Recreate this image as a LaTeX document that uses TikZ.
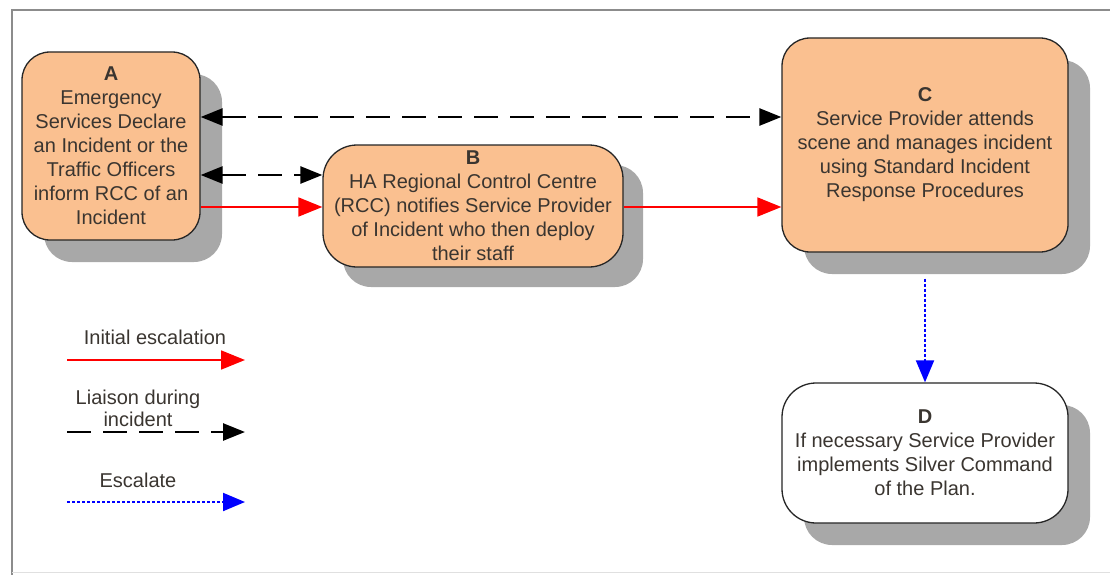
\documentclass[tikz,border=0pt]{standalone}
\usepackage{fontspec}
\setmainfont{Liberation Sans}
\usetikzlibrary{arrows.meta}
\definecolor{peach}{HTML}{FAC090}
\definecolor{txt}{HTML}{3A3530}
\definecolor{shade}{HTML}{A8A8A8}
\definecolor{frame}{HTML}{8C8C8C}
\begin{document}
\begin{tikzpicture}[x=1pt,y=-1pt,
  box/.style={draw=black!85, line width=1.3pt, rounded corners=28pt, align=center,
    text=txt, font=\fontsize{20}{24}\selectfont, inner sep=0pt},
  shad/.style={fill=shade, draw=none, rounded corners=28pt},
  redarr/.style={line width=1.8pt, -{Triangle[length=24pt,width=19pt]}, color=red},
  blkarr/.style={line width=2.6pt, dash pattern=on 24pt off 12pt, {Triangle[length=22pt,width=17pt]}-{Triangle[length=22pt,width=17pt]}},
  blkone/.style={line width=2.6pt, dash pattern=on 24pt off 12pt, -{Triangle[length=22pt,width=17pt]}},
  bluarr/.style={line width=2pt, dash pattern=on 3pt off 2pt, -{Triangle[length=22pt,width=18pt]}, color=blue},
  lgd/.style={text=txt, font=\fontsize{20}{22}\selectfont, align=center, inner sep=0pt}
]
\useasboundingbox (0,0) rectangle (1110,575);
\fill[white] (0,0) rectangle (1110,575);
% frame
\draw[frame, line width=2.5pt] (1110,10) -- (12,10) -- (12,575);
\draw[black!12, line width=1pt] (12,572) -- (1110,572);
% shadows
\fill[shad] (44,74) rectangle (222,262);
\fill[shad] (343,165) rectangle (643,287);
\fill[shad] (804,60) rectangle (1090,274);
\fill[shad] (804,405) rectangle (1090,545);
% nodes
\node[box, fill=peach, minimum width=178pt, minimum height=188pt] (A) at (111,146)
  {\textbf{A}\\Emergency\\Services Declare\\an Incident or the\\Traffic Officers\\inform RCC of an\\Incident};
\node[box, fill=peach, minimum width=300pt, minimum height=122pt, rounded corners=34pt] (B) at (473,206)
  {\textbf{B}\\HA Regional Control Centre\\(RCC) notifies Service Provider\\of Incident who then deploy\\their staff};
\node[box, fill=peach, minimum width=286pt, minimum height=214pt] (C) at (925,145)
  {\textbf{C}\\Service Provider attends\\scene and manages incident\\using Standard Incident\\Response Procedures};
\node[box, fill=white, minimum width=286pt, minimum height=140pt, rounded corners=34pt] (D) at (925,453)
  {\textbf{D}\\If necessary Service Provider\\implements Silver Command\\of the Plan.};
% connectors
\draw[blkarr] (A.east |- 0,117) -- (C.west |- 0,117);
\draw[blkarr] (A.east |- 0,175) -- (B.west |- 0,175);
\draw[redarr] (A.east |- 0,207) -- (B.west |- 0,207);
\draw[redarr] (B.east |- 0,207) -- (C.west |- 0,207);
\draw[bluarr] (C.south) ++(0,26) -- (D.north);
% legend
\node[lgd] (l1) at (155,337) {Initial escalation};
\coordinate (l1s) at (67,360); \coordinate (l1e) at (245,360);
\draw[redarr] (l1s) -- (l1e);
\node[lgd] (l2) at (138,408) {Liaison during\\incident};
\coordinate (l2s) at (67,432); \coordinate (l2e) at (245,432);
\draw[blkone] (l2s) -- (l2e);
\node[lgd] (l3) at (138,480) {Escalate};
\coordinate (l3s) at (67,502); \coordinate (l3e) at (245,502);
\draw[bluarr] (l3s) -- (l3e);
\end{tikzpicture}
\end{document}
